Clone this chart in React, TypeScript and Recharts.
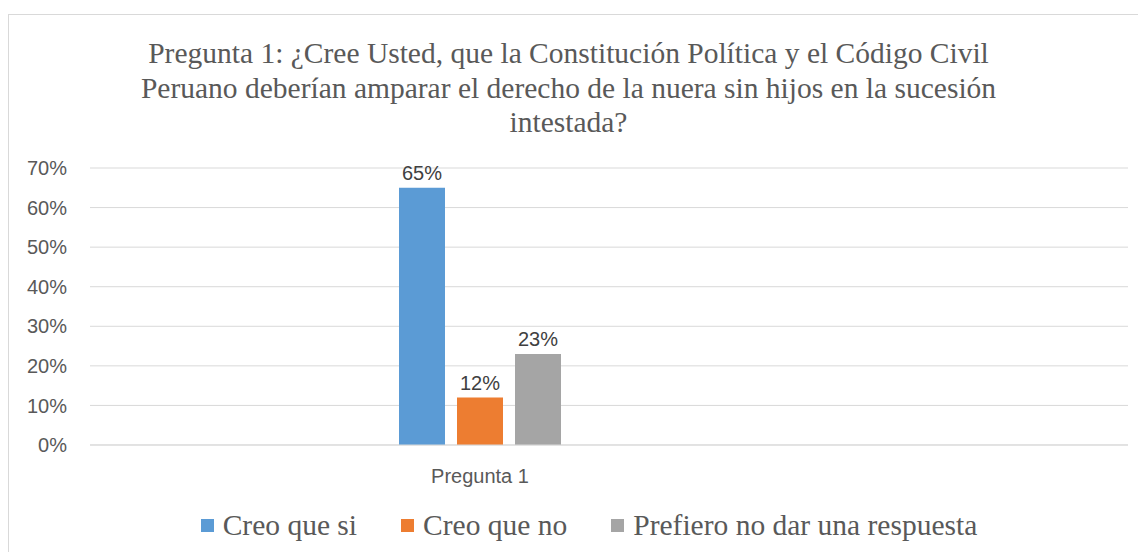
import { BarChart, Bar, XAxis, YAxis, CartesianGrid, Legend, LabelList } from 'recharts';

const categories = ['Pregunta 1'];
const creoQueSi = [0.65];
const creoQueNo = [0.12];
const prefiero = [0.23];
const yTicks = [0, 0.1, 0.2, 0.3, 0.4, 0.5, 0.6, 0.7];

const SERIES = [
  { key: 'si', name: 'Creo que si', color: '#5B9BD5' },
  { key: 'no', name: 'Creo que no', color: '#ED7D31' },
  { key: 'nr', name: 'Prefiero no dar una respuesta', color: '#A5A5A5' },
];

const data = categories.map((c, i) => ({
  category: c,
  si: creoQueSi[i],
  no: creoQueNo[i],
  nr: prefiero[i],
}));

const pct = (v: number) => `${Math.round(v * 100)}%`;
const sans = '"Liberation Sans", Arial, sans-serif';
const serif = '"Liberation Serif", "Times New Roman", serif';

function LegendRow() {
  return (
    <div
      style={{
        display: 'flex',
        justifyContent: 'center',
        gap: 44,
        paddingLeft: 42,
        fontFamily: serif,
        fontSize: 29.5,
        lineHeight: '36px',
        color: '#595959',
      }}
    >
      {SERIES.map((s) => (
        <div key={s.key} style={{ display: 'flex', alignItems: 'center' }}>
          <span style={{ width: 13, height: 13, background: s.color, marginRight: 9, display: 'inline-block' }} />
          <span>{s.name}</span>
        </div>
      ))}
    </div>
  );
}

export default function App() {
  return (
    <div style={{ position: 'relative', width: 1138, height: 544 }}>
      <div
        style={{
          position: 'absolute',
          left: 0,
          top: 6,
          width: 1150,
          height: 560,
          border: '1px solid #d9d9d9',
          boxSizing: 'border-box',
        }}
      />
      <div
        style={{
          position: 'absolute',
          left: 0,
          top: 28,
          width: 1121,
          textAlign: 'center',
          fontFamily: serif,
          fontSize: 29.5,
          lineHeight: '34.5px',
          color: '#595959',
          whiteSpace: 'nowrap',
        }}
      >
        Pregunta 1: ¿Cree Usted, que la Constitución Política y el Código Civil
        <br />
        Peruano deberían amparar el derecho de la nuera sin hijos en la sucesión
        <br />
        intestada?
      </div>
      <div style={{ position: 'absolute', left: 0, top: 0 }}>
        <BarChart
          width={1138}
          height={544}
          data={data}
          margin={{ top: 160, right: 18, bottom: 9, left: 0 }}
          barGap={12}
          barSize={46}
        >
          <CartesianGrid vertical={false} stroke="#d9d9d9" />
          <XAxis
            dataKey="category"
            axisLine={{ stroke: '#d9d9d9' }}
            tickLine={false}
            height={62}
            tickMargin={18}
            padding={{ left: 0, right: 258 }}
            tick={{ fill: '#595959', fontSize: 20, fontFamily: sans }}
          />
          <YAxis
            width={82}
            domain={[0, 0.7]}
            ticks={yTicks}
            tickFormatter={pct}
            axisLine={false}
            tickLine={false}
            tickMargin={17}
            tick={{ fill: '#595959', fontSize: 20, fontFamily: sans }}
          />
          <Legend verticalAlign="bottom" height={36} content={() => <LegendRow />} />
          {SERIES.map((s) => (
            <Bar key={s.key} dataKey={s.key} name={s.name} fill={s.color} isAnimationActive={false}>
              <LabelList
                dataKey={s.key}
                position="top"
                offset={8}
                formatter={(v: any) => pct(Number(v))}
                style={{ fill: '#404040', fontSize: 20, fontFamily: sans }}
              />
            </Bar>
          ))}
        </BarChart>
      </div>
    </div>
  );
}
